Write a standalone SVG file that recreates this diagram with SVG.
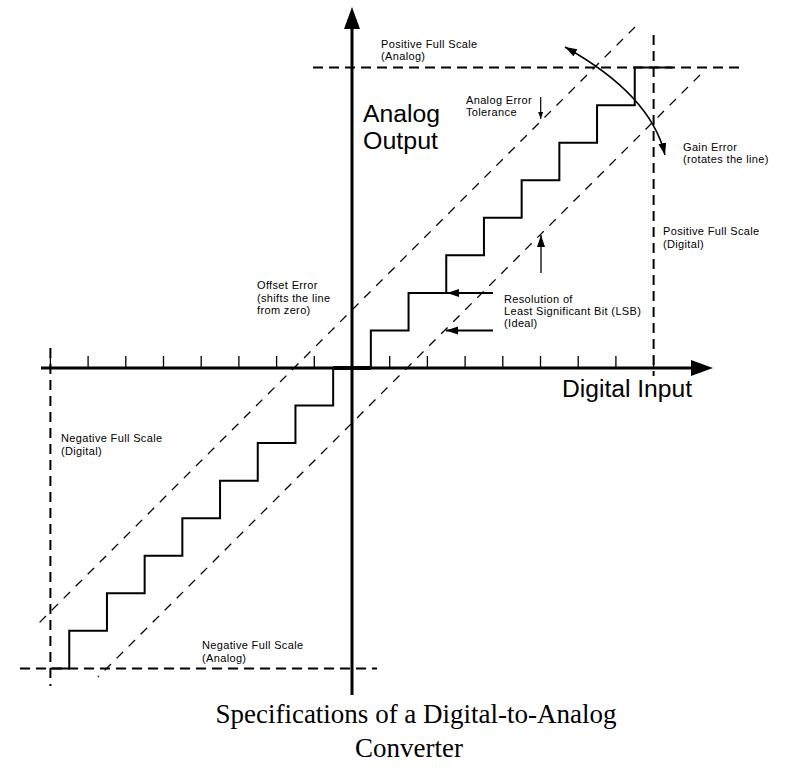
<svg xmlns="http://www.w3.org/2000/svg" width="785" height="770" viewBox="0 0 785 770">
  <style>
    .lbl { font-family: "Liberation Sans", Arial, sans-serif; font-size: 11px; letter-spacing: 0.35px; fill: #000; }
    .big { font-family: "Liberation Sans", Arial, sans-serif; font-size: 23.5px; fill: #000; }
    .title { font-family: "Liberation Serif", "Times New Roman", serif; font-size: 27px; fill: #000; text-anchor: middle; }
    .axis { stroke: #000; stroke-width: 3; fill: none; }
    .tick { stroke: #000; stroke-width: 1.3; fill: none; }
    .bound { stroke: #000; stroke-width: 2; stroke-dasharray: 10 6; fill: none; }
    .tol { stroke: #000; stroke-width: 1.3; stroke-dasharray: 9 8; fill: none; }
    .stair { stroke: #000; stroke-width: 2; fill: none; stroke-linejoin: miter; }
    .ptr { stroke: #000; fill: none; }
  </style>
  <defs>
    <marker id="head" markerUnits="userSpaceOnUse" markerWidth="13" markerHeight="9" refX="12" refY="4" orient="auto-start-reverse">
      <path d="M0,0 L12,4 L0,8 z" fill="#000"/>
    </marker>
    <marker id="headSmall" markerUnits="userSpaceOnUse" markerWidth="8" markerHeight="6" refX="7" refY="2.5" orient="auto">
      <path d="M0,0 L7,2.5 L0,5 z" fill="#000"/>
    </marker>
  </defs>

  <rect width="785" height="770" fill="#fff"/>

  <!-- full-scale boundaries -->
  <g id="full-scale-bounds">
    <line class="bound" x1="313" y1="67.6" x2="740" y2="67.6"/>
    <line class="bound" x1="20" y1="668.4" x2="377" y2="668.4"/>
    <line class="bound" x1="653.6" y1="35" x2="653.6" y2="376"/>
    <line class="bound" x1="50.4" y1="348" x2="50.4" y2="686"/>
  </g>

  <!-- error tolerance band around the ideal transfer line -->
  <g id="tolerance-band">
    <line class="tol" x1="635" y1="27" x2="34" y2="628"/>
    <line class="tol" x1="700" y1="75" x2="98" y2="677"/>
  </g>

  <!-- axes with tick marks -->
  <g id="axes">
    <line class="axis" x1="352" y1="695" x2="352" y2="26"/>
    <path d="M352,7 L360,29 L344,29 z" fill="#000"/>
    <line class="axis" x1="41" y1="368" x2="694" y2="368"/>
    <path d="M713,368 L691,360 L691,376 z" fill="#000"/>
    <path class="tick" d="M50.4,356V368 M88.1,356V368 M125.8,356V368 M163.5,356V368 M201.2,356V368 M238.9,356V368 M276.6,356V368 M314.3,356V368 M389.7,356V368 M427.4,356V368 M465.1,356V368 M502.8,356V368 M540.5,356V368 M578.2,356V368 M615.9,356V368 M653.6,356V368"/>
  </g>

  <!-- DAC transfer staircase -->
  <g id="staircase">
    <path class="stair" d="M50.4,668.4 H69.25
      v-37.55 h37.7 v-37.55 h37.7 v-37.55 h37.7 v-37.55 h37.7
      v-37.55 h37.7 v-37.55 h37.7 v-37.55 h37.7 v-37.55 h37.7
      v-37.55 h37.7 v-37.55 h37.7 v-37.55 h37.7 v-37.55 h37.7
      v-37.55 h37.7 v-37.55 h37.7 v-37.55 h37.7 v-37.55 h37.7"/>
    <line x1="333" y1="368" x2="371" y2="368" stroke="#000" stroke-width="4"/>
  </g>

  <!-- annotation pointers -->
  <g id="connectors">
    <path class="ptr" stroke-width="1.5" d="M565,47 Q651,95 665,155" marker-start="url(#head)" marker-end="url(#head)"/>
    <line class="ptr" stroke-width="1.2" x1="540.7" y1="97" x2="540.7" y2="119" marker-end="url(#headSmall)"/>
    <line class="ptr" stroke-width="2" x1="493" y1="292.9" x2="447" y2="292.9" marker-end="url(#head)"/>
    <line class="ptr" stroke-width="2" x1="493" y1="330.5" x2="446" y2="330.5" marker-end="url(#head)"/>
    <line class="ptr" stroke-width="1.3" x1="541" y1="273" x2="541" y2="235" marker-end="url(#head)"/>
  </g>

  <!-- labels -->
  <g id="label-pos-fs-analog">
    <text class="lbl" x="381" y="48">Positive Full Scale</text>
    <text class="lbl" x="381" y="60">(Analog)</text>
  </g>
  <g id="label-analog-output">
    <text class="big" x="363" y="122" textLength="77" lengthAdjust="spacingAndGlyphs">Analog</text>
    <text class="big" x="363" y="148.5" textLength="75" lengthAdjust="spacingAndGlyphs">Output</text>
  </g>
  <g id="label-tolerance">
    <text class="lbl" x="466" y="104">Analog Error</text>
    <text class="lbl" x="466" y="116">Tolerance</text>
  </g>
  <g id="label-gain">
    <text class="lbl" x="683" y="151">Gain Error</text>
    <text class="lbl" x="683" y="163">(rotates the line)</text>
  </g>
  <g id="label-pos-fs-digital">
    <text class="lbl" x="663" y="235">Positive Full Scale</text>
    <text class="lbl" x="663" y="248">(Digital)</text>
  </g>
  <g id="label-resolution">
    <text class="lbl" x="504" y="303">Resolution of</text>
    <text class="lbl" x="504" y="315">Least Significant Bit (LSB)</text>
    <text class="lbl" x="504" y="327">(Ideal)</text>
  </g>
  <g id="label-offset">
    <text class="lbl" x="257" y="289">Offset Error</text>
    <text class="lbl" x="257" y="302">(shifts the line</text>
    <text class="lbl" x="257" y="314">from zero)</text>
  </g>
  <g id="label-neg-fs-digital">
    <text class="lbl" x="61" y="442">Negative Full Scale</text>
    <text class="lbl" x="61" y="455">(Digital)</text>
  </g>
  <g id="label-digital-input">
    <text class="big" x="562" y="397" font-size="21" textLength="130" lengthAdjust="spacingAndGlyphs">Digital Input</text>
  </g>
  <g id="label-neg-fs-analog">
    <text class="lbl" x="202" y="649">Negative Full Scale</text>
    <text class="lbl" x="202" y="662">(Analog)</text>
  </g>
  <g id="title">
    <text class="title" x="416" y="723">Specifications of a Digital-to-Analog</text>
    <text class="title" x="409" y="757">Converter</text>
  </g>
</svg>
